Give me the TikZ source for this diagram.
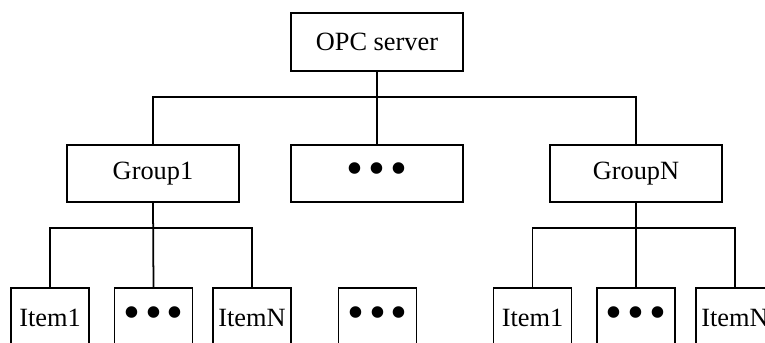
\documentclass[tikz,border=0pt]{standalone}
\usepackage{fontspec}
\setmainfont{Liberation Serif}
\newcommand{\threedots}{{\fontsize{22}{22}\selectfont•\hspace{2.3pt}•\hspace{2.3pt}•}}
\begin{document}
\begin{tikzpicture}[x=0.016cm,y=-0.016cm,line width=0.8pt,
    every node/.style={font=\fontsize{12}{14}\selectfont, inner sep=0pt, outer sep=0pt},
    groupbox/.style={draw, minimum width=2.75cm, minimum height=0.92cm},
    itembox/.style={draw, minimum width=1.25cm, minimum height=0.96cm}]
    \clip (0,0) rectangle (765,342);
    \node[groupbox] (server) at (377,42) {OPC server};
    \node[groupbox] (group1) at (153,173.5) {Group1};
    \node[groupbox] (groupmid) at (377,173.5) {\threedots};
    \node[groupbox] (groupN) at (636,173.5) {GroupN};
    \node[itembox] (a1) at (50,318) {Item1};
    \node[itembox] (a2) at (153.5,318) {\threedots};
    \node[itembox] (a3) at (252,318) {ItemN};
    \node[itembox] (mid) at (377.5,318) {\threedots};
    \node[itembox] (b1) at (532.5,318) {Item1};
    \node[itembox] (b2) at (636,318) {\threedots};
    \node[itembox] (b3) at (735,318) {ItemN};
    \coordinate (bus) at (377,97);
    \coordinate (bus1) at (153,228);
    \coordinate (busN) at (636,228);
    \draw (server.south) -- (groupmid.north);
    \draw (group1.north) |- (bus) -| (groupN.north);
    \draw (group1.south) -- (a2.north);
    \draw (a1.north) |- (bus1) -| (a3.north);
    \draw (groupN.south) -- (b2.north);
    \draw (b1.north) |- (busN) -| (b3.north);
\end{tikzpicture}
\end{document}
